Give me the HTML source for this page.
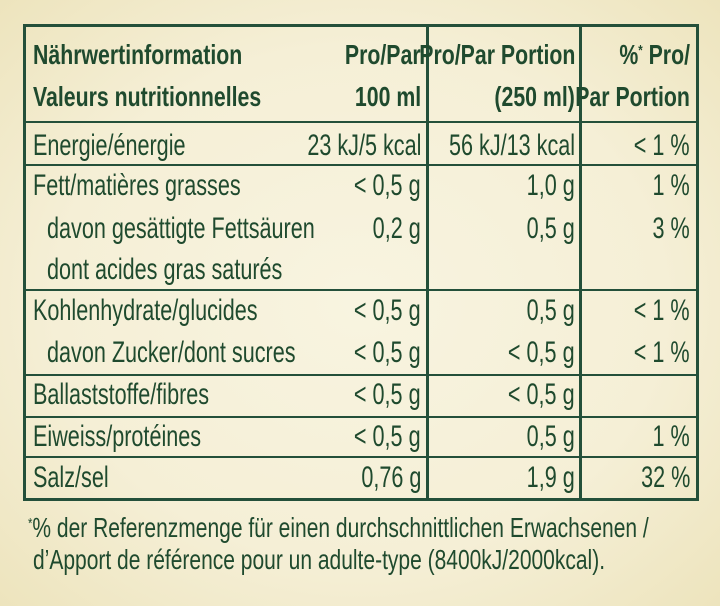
<!DOCTYPE html>
<html><head><meta charset="utf-8"><style>
html,body{margin:0;padding:0}
body{width:720px;height:606px;overflow:hidden;background:#f3eccb;position:relative;font-family:"Liberation Sans Narrow","Liberation Sans",sans-serif;color:#1f4a2e}
#panel{position:absolute;left:0;top:0;width:720px;height:606px;background:radial-gradient(ellipse at 50% 50%,#f8f4e0 0%,#f5efd6 60%,#ede4bd 100%)}
.box{position:absolute;left:23px;top:24px;width:670px;height:471px;border:3px solid #24503a}
.h{position:absolute;left:23px;width:676px;height:2px;background:#24503a}
.v{position:absolute;top:24px;width:3px;height:474px;background:#24503a}
.t{position:absolute;white-space:nowrap;font-size:30px;line-height:34px;height:34px;transform:scaleX(.72);transform-origin:left center}
.r{text-align:right;transform-origin:right center}
.b{font-weight:bold;font-size:28px;transform:scaleX(.76)}
.f{font-size:28px;transform:scaleX(.75)}
</style></head><body>
<div id="panel"></div>
<div class="box"></div>
<div class="v" style="left:426px"></div>
<div class="v" style="left:579px"></div>
<div class="h" style="top:121px"></div>
<div class="h" style="top:164px"></div>
<div class="h" style="top:289px"></div>
<div class="h" style="top:374px"></div>
<div class="h" style="top:416px"></div>
<div class="h" style="top:456px"></div>

<div class="t b" style="left:33px;top:38px">Nährwertinformation</div>
<div class="t b" style="left:33px;top:80px">Valeurs nutritionnelles</div>
<div class="t b r" style="right:299px;top:38px">Pro/Par</div>
<div class="t b r" style="right:299px;top:80px">100 ml</div>
<div class="t b r" style="right:145px;top:38px">Pro/Par Portion</div>
<div class="t b r" style="right:145px;top:80px">(250 ml)</div>
<div class="t b r" style="right:30px;top:38px">%<sup style="font-size:15px;vertical-align:9px;line-height:0">*</sup> Pro/</div>
<div class="t b r" style="right:30px;top:80px">Par Portion</div>

<div id="rows"></div>

<div class="t f" style="left:28px;top:511px"><sup style="font-size:15px;vertical-align:9px;line-height:0">*</sup>% der Referenzmenge für einen durchschnittlichen Erwachsenen /</div>
<div class="t f" style="left:33px;top:543px">d’Apport de référence pour un adulte-type (8400kJ/2000kcal).</div>

<script>
const labels=["Energie/énergie","Fett/matières grasses","davon gesättigte Fettsäuren","dont acides gras saturés","Kohlenhydrate/glucides","davon Zucker/dont sucres","Ballaststoffe/fibres","Eiweiss/protéines","Salz/sel"];
const per100=["23 kJ/5 kcal","< 0,5 g","0,2 g","","< 0,5 g","< 0,5 g","< 0,5 g","< 0,5 g","0,76 g"];
const perPortion=["56 kJ/13 kcal","1,0 g","0,5 g","","0,5 g","< 0,5 g","< 0,5 g","0,5 g","1,9 g"];
const pct=["< 1 %","1 %","3 %","","< 1 %","< 1 %","","1 %","32 %"];
const rowY=[129,169,212,253,294,336,378,420,461];
const indent=[0,0,1,1,0,1,0,0,0];
const rows=document.getElementById('rows');
function mk(txt,style,name){
  const d=document.createElement('div');
  d.className='t'+(style.right?' r':'');
  
  
  Object.assign(d.style,style);d.textContent=txt;rows.appendChild(d);
}
labels.forEach((l,i)=>{
  mk(l,{left:(indent[i]?47:33)+'px',top:rowY[i]+'px'},'row-label');
  if(per100[i])mk(per100[i],{right:'299px',top:rowY[i]+'px'},'value-per-100ml');
  if(perPortion[i])mk(perPortion[i],{right:'145px',top:rowY[i]+'px'},'value-per-portion');
  if(pct[i])mk(pct[i],{right:'30px',top:rowY[i]+'px'},'value-percent');
});
</script>
</body></html>
